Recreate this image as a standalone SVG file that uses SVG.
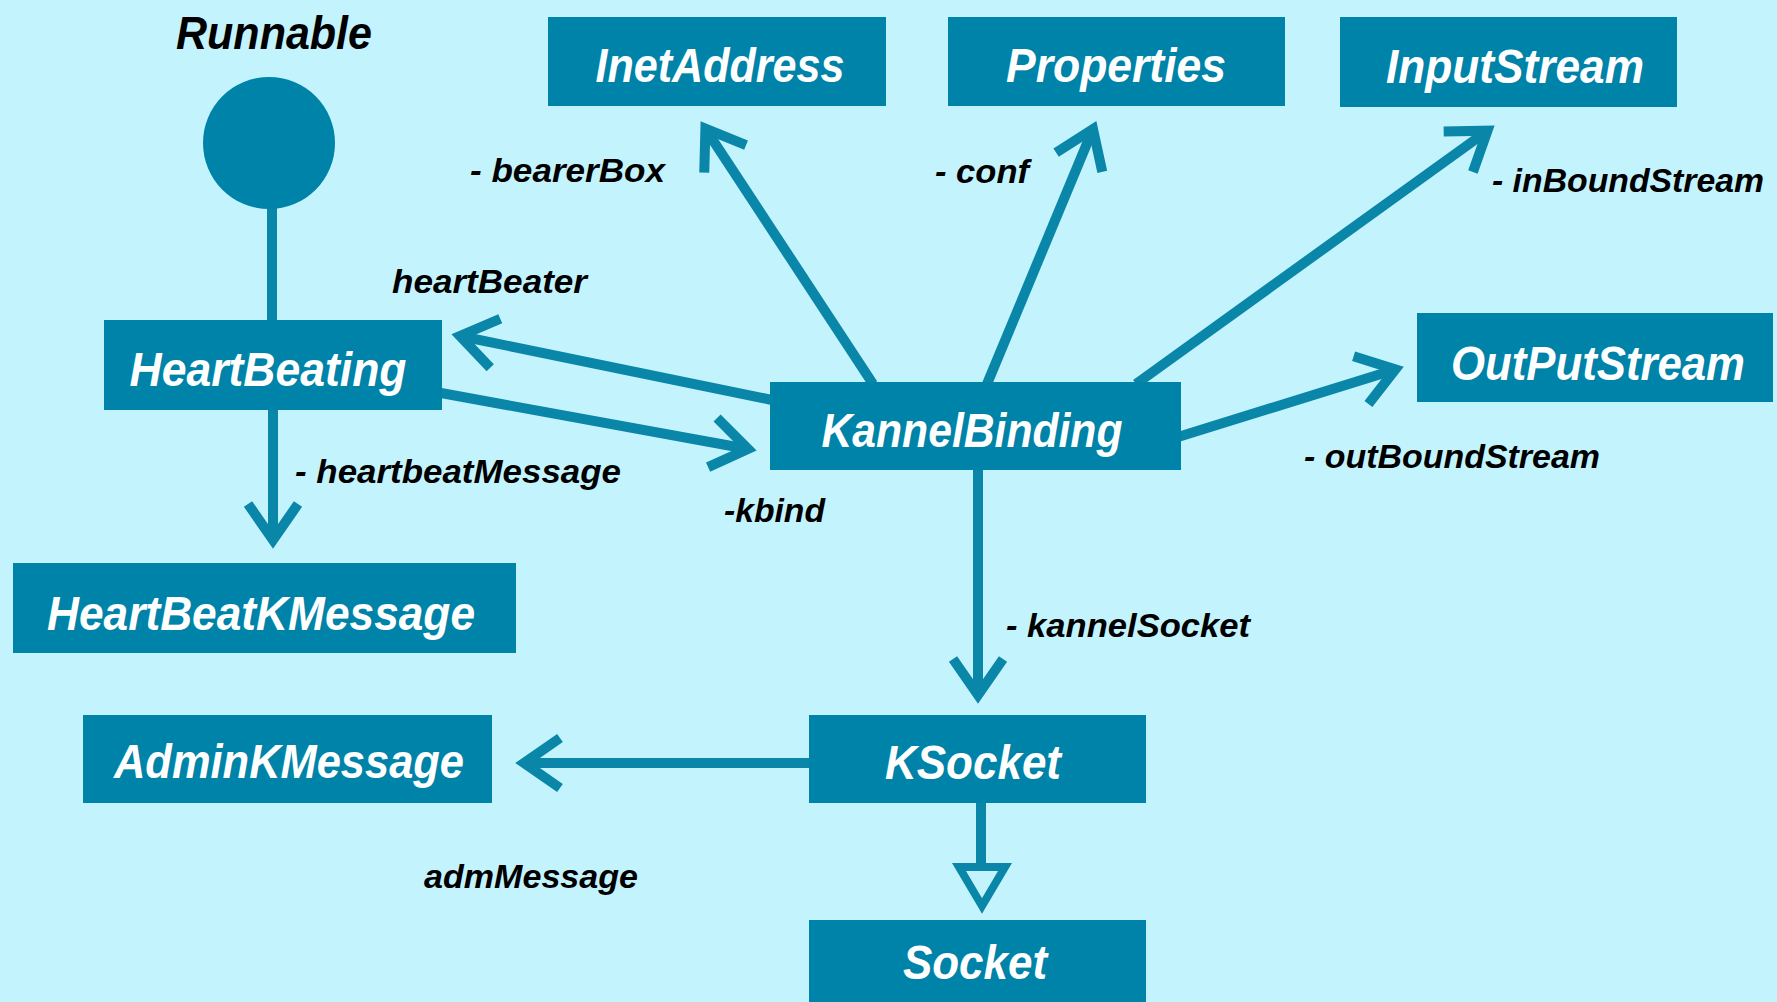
<svg xmlns="http://www.w3.org/2000/svg" width="1777" height="1002" viewBox="0 0 1777 1002">
<style>
.box{fill:#0083A8}
.nt{font-family:"Liberation Sans",Arial,sans-serif;font-weight:bold;font-style:italic;font-size:48px;fill:#ffffff;text-anchor:middle}
.lb{font-family:"Liberation Sans",Arial,sans-serif;font-weight:bold;font-style:italic;font-size:33px;fill:#000000}
.ln{stroke:#0A86A9;stroke-width:10;fill:none}
</style>
<defs>
<marker id="open" markerUnits="userSpaceOnUse" markerWidth="60" markerHeight="70" viewBox="-50 -35 60 70" refX="0" refY="0" orient="auto" overflow="visible">
<path d="M-36,-25 L0,0 L-36,25" fill="none" stroke="#0A86A9" stroke-width="10"/>
</marker>
</defs>
<rect x="0" y="0" width="1777" height="1002" fill="#C3F4FE"/>
<g id="connectors">
<line class="ln" x1="272" y1="200" x2="272" y2="321"/>
<line class="ln" x1="273" y1="410" x2="273" y2="540" marker-end="url(#open)"/>
<line class="ln" x1="772" y1="400" x2="460" y2="336" marker-end="url(#open)"/>
<line class="ln" x1="441" y1="393" x2="748" y2="449" marker-end="url(#open)"/>
<line class="ln" x1="873" y1="384" x2="705.4" y2="128.7" marker-end="url(#open)"/>
<line class="ln" x1="987" y1="384" x2="1093" y2="129" marker-end="url(#open)"/>
<line class="ln" x1="1136" y1="384" x2="1487.5" y2="130.7" marker-end="url(#open)"/>
<line class="ln" x1="1178" y1="437" x2="1395.4" y2="369.4" marker-end="url(#open)"/>
<line class="ln" x1="978" y1="468" x2="978" y2="695" marker-end="url(#open)"/>
<line class="ln" x1="811" y1="763" x2="524" y2="763" marker-end="url(#open)"/>
<line class="ln" x1="981" y1="802" x2="981" y2="867"/>
<polygon points="959,867 1005,867 982,906" fill="#C3F4FE" stroke="#0A86A9" stroke-width="8" stroke-linejoin="miter"/>
</g>
<g id="labels">
<text class="lb" x="392" y="293" textLength="195" lengthAdjust="spacingAndGlyphs">heartBeater</text>
<text class="lb" x="470" y="182" textLength="195" lengthAdjust="spacingAndGlyphs">- bearerBox</text>
<text class="lb" x="935" y="183" textLength="94" lengthAdjust="spacingAndGlyphs">- conf</text>
<text class="lb" x="1492" y="192" textLength="272" lengthAdjust="spacingAndGlyphs">- inBoundStream</text>
<text class="lb" x="1304" y="468" textLength="296" lengthAdjust="spacingAndGlyphs">- outBoundStream</text>
<text class="lb" x="295" y="483" textLength="326" lengthAdjust="spacingAndGlyphs">- heartbeatMessage</text>
<text class="lb" x="724" y="522" textLength="101" lengthAdjust="spacingAndGlyphs">-kbind</text>
<text class="lb" x="1006" y="637" textLength="244" lengthAdjust="spacingAndGlyphs">- kannelSocket</text>
<text class="lb" x="424" y="888" textLength="214" lengthAdjust="spacingAndGlyphs">admMessage</text>
</g>
<g id="runnable">
<text x="176" y="49" font-family="Liberation Sans, Arial, sans-serif" font-weight="bold" font-style="italic" font-size="46" fill="#000000" textLength="196" lengthAdjust="spacingAndGlyphs">Runnable</text>
<circle cx="269" cy="143" r="66" class="box"/>
</g>
<g id="inetaddress">
<rect class="box" x="548" y="17" width="338" height="89"/>
<text class="nt" x="720" y="82" textLength="249" lengthAdjust="spacingAndGlyphs">InetAddress</text>
</g>
<g id="properties">
<rect class="box" x="948" y="17" width="337" height="89"/>
<text class="nt" x="1116" y="82" textLength="220" lengthAdjust="spacingAndGlyphs">Properties</text>
</g>
<g id="inputstream">
<rect class="box" x="1340" y="17" width="337" height="90"/>
<text class="nt" x="1515" y="83" textLength="258" lengthAdjust="spacingAndGlyphs">InputStream</text>
</g>
<g id="heartbeating">
<rect class="box" x="104" y="320" width="338" height="90"/>
<text class="nt" x="268" y="386" textLength="277" lengthAdjust="spacingAndGlyphs">HeartBeating</text>
</g>
<g id="outputstream">
<rect class="box" x="1417" y="313" width="356" height="89"/>
<text class="nt" x="1598" y="380" textLength="294" lengthAdjust="spacingAndGlyphs">OutPutStream</text>
</g>
<g id="kannelbinding">
<rect class="box" x="770" y="382" width="411" height="88"/>
<text class="nt" x="972" y="447" textLength="301" lengthAdjust="spacingAndGlyphs">KannelBinding</text>
</g>
<g id="heartbeatkmessage">
<rect class="box" x="13" y="563" width="503" height="90"/>
<text class="nt" x="261" y="630" textLength="428" lengthAdjust="spacingAndGlyphs">HeartBeatKMessage</text>
</g>
<g id="adminkmessage">
<rect class="box" x="83" y="715" width="409" height="88"/>
<text class="nt" x="289" y="778" textLength="350" lengthAdjust="spacingAndGlyphs">AdminKMessage</text>
</g>
<g id="ksocket">
<rect class="box" x="809" y="715" width="337" height="88"/>
<text class="nt" x="973" y="779" textLength="176" lengthAdjust="spacingAndGlyphs">KSocket</text>
</g>
<g id="socket">
<rect class="box" x="809" y="920" width="337" height="90"/>
<text class="nt" x="975" y="979" textLength="144" lengthAdjust="spacingAndGlyphs">Socket</text>
</g>
</svg>
